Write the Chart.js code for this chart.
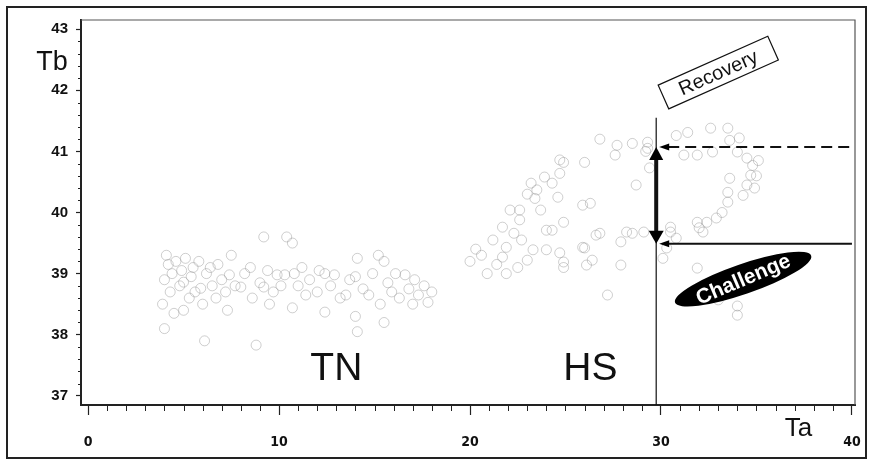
<!DOCTYPE html>
<html>
<head>
<meta charset="utf-8">
<script src="https://cdn.jsdelivr.net/npm/chart.js@4.4.1/dist/chart.umd.min.js"></script>
<style>
  html, body { margin: 0; padding: 0; background: #fff; }
  #wrap { width: 872px; height: 462px; }
</style>
</head>
<body>
<div id="wrap"><canvas id="chart" width="872" height="462"></canvas></div>
<script>
// axis setup (Ta on x, Tb on y)
const xTicks = [0, 10, 20, 30, 40];
const yTicks = [37, 38, 39, 40, 41, 42, 43];
const xRange = [-0.37, 40.16];
const yRange = [36.85, 43.15];

// thermoneutral period
const tnPoints = [
    [3.9,38.5],[4.0,38.1],[4.0,38.9],[4.1,39.3],[4.2,39.15],[4.3,38.7],[4.4,39.0],[4.5,38.35],
    [4.6,39.2],[4.8,38.8],[4.9,39.05],[5.0,38.4],[5.0,38.86],[5.1,39.25],[5.3,38.6],[5.4,38.95],
    [5.5,39.1],[5.6,38.7],[5.8,39.2],[5.9,38.76],[6.0,38.5],[6.1,37.9],[6.2,39.0],[6.4,39.1],
    [6.5,38.8],[6.7,38.6],[6.8,39.15],[7.0,38.9],[7.2,38.7],[7.3,38.4],[7.4,38.98],[7.5,39.3],
    [7.7,38.8],[8.0,38.78],[8.2,39.0],[8.5,39.1],[8.6,38.6],[8.8,37.83],[9.0,38.85],[9.2,38.78],
    [9.2,39.6],[9.4,39.05],[9.5,38.5],[9.7,38.7],[9.9,38.98],[10.1,38.8],[10.3,38.98],[10.4,39.6],
    [10.7,38.44],[10.7,39.5],[10.8,39.0],[11.0,38.8],[11.2,39.1],[11.4,38.65],[11.6,38.9],[12.0,38.7],
    [12.1,39.05],[12.4,38.37],[12.4,39.0],[12.7,38.8],[12.9,38.98],[13.2,38.6],[13.5,38.65],[13.7,38.9],
    [14.0,38.3],[14.0,38.95],[14.1,38.05],[14.1,39.25],[14.4,38.75],[14.7,38.65],[14.9,39.0],[15.2,39.3],
    [15.3,38.5],[15.5,38.2],[15.5,39.2],[15.7,38.85],[15.9,38.7],[16.1,39.0],[16.3,38.6],[16.6,38.98],
    [16.8,38.75],[17.0,38.5],[17.1,38.9],[17.3,38.65],[17.6,38.8],[17.8,38.53],[18.0,38.7]
];

// heat stress period
const hsPoints = [
    [20.0,39.2],[20.3,39.4],[20.6,39.3],[20.9,39.0],[21.2,39.55],[21.4,39.15],[21.7,39.76],[21.7,39.27],
    [21.9,39.43],[21.9,39.0],[22.1,40.04],[22.3,39.66],[22.5,39.1],[22.6,39.88],[22.6,40.04],[22.7,39.55],
    [23.0,40.3],[23.0,39.22],[23.2,40.48],[23.3,39.39],[23.4,40.23],[23.5,40.37],[23.7,40.04],[23.9,40.58],
    [24.0,39.71],[24.0,39.39],[24.3,39.71],[24.3,40.48],[24.6,40.25],[24.7,40.86],[24.7,40.64],[24.7,39.34],
    [24.9,39.1],[24.9,40.82],[24.9,39.84],[24.9,39.19],[25.9,40.12],[25.9,39.43],[26.0,40.82],[26.0,39.42],
    [26.1,39.14],[26.3,40.15],[26.4,39.22],[26.6,39.63],[26.8,39.66],[26.8,41.2],[27.2,38.65],[27.6,40.94],
    [27.7,41.1],[27.9,39.52],[27.9,39.14],[28.2,39.68],[28.5,41.13],[28.5,39.66],[28.7,40.45],[29.1,39.68],
    [29.2,41.0],[29.3,41.15],[29.3,41.05],[29.4,40.73]
];

// recovery loop
const recoveryPoints = [
    [30.1,39.25],[30.3,39.42],[30.5,39.68],[30.5,39.76],[30.8,39.58],[30.8,41.26],[31.2,40.94],[31.4,41.31],
    [31.9,40.94],[31.9,39.84],[31.9,39.09],[32.0,39.75],[32.2,39.68],[32.4,39.84],[32.6,41.38],[32.7,40.99],
    [32.9,39.91],[33.0,38.57],[33.2,40.0],[33.5,40.17],[33.5,40.33],[33.5,41.38],[33.6,40.56],[33.6,41.18],
    [34.0,40.99],[34.0,38.32],[34.0,38.47],[34.1,41.22],[34.3,40.28],[34.5,40.45],[34.5,40.89],[34.7,40.61],
    [34.8,40.77],[34.9,40.4],[35.0,40.6],[35.1,40.85]
];

// where the arrows sit
const challengeTa = 29.75;
const recoveryTb = 41.07;
const challengeTb = 39.49;

function toXY(list) {
    return list.map(p => ({ x: p[0], y: p[1] }));
}

function head(ctx, tx, ty, dx, dy, len, half) {
    // tip at (tx,ty), pointing along (dx,dy)
    const bx = tx - dx * len, by = ty - dy * len;
    ctx.beginPath();
    ctx.moveTo(tx, ty);
    ctx.lineTo(bx - dy * half, by + dx * half);
    ctx.lineTo(bx + dy * half, by - dx * half);
    ctx.closePath();
    ctx.fill();
}

const figureMarks = {
    id: 'figureMarks',
    afterDraw(chart) {
        const { ctx, chartArea: area, scales: { x, y } } = chart;
        ctx.save();

        // outer frame
        ctx.strokeStyle = '#222';
        ctx.lineWidth = 2;
        ctx.strokeRect(7, 7, 859, 451);

        // top and right frame of the plot
        ctx.lineWidth = 1.2;
        ctx.strokeStyle = '#555';
        ctx.beginPath();
        ctx.moveTo(area.left, area.top);
        ctx.lineTo(area.right, area.top);
        ctx.lineTo(area.right, area.bottom);
        ctx.stroke();

        // minor ticks
        ctx.strokeStyle = '#222';
        ctx.lineWidth = 1;
        ctx.beginPath();
        for (let i = 1; i < 30; i++) {
            if (i % 5 === 0) continue;
            const py = Math.round(y.getPixelForValue(37 + i * 0.2)) + 0.5;
            ctx.moveTo(area.left - 3, py);
            ctx.lineTo(area.left, py);
        }
        for (let i = 1; i < 40; i++) {
            if (i % 10 === 0) continue;
            const px = Math.round(x.getPixelForValue(i)) + 0.5;
            ctx.moveTo(px, area.bottom);
            ctx.lineTo(px, area.bottom + 6);
        }
        ctx.stroke();

        const cx = x.getPixelForValue(challengeTa);
        const yRec = y.getPixelForValue(recoveryTb);
        const yCh = y.getPixelForValue(challengeTb);
        const xEnd = x.getPixelForValue(40);

        // vertical line at the challenge
        ctx.strokeStyle = '#111';
        ctx.lineWidth = 1.2;
        ctx.beginPath();
        ctx.moveTo(cx, y.getPixelForValue(41.55));
        ctx.lineTo(cx, area.bottom);
        ctx.stroke();

        // thick double arrow
        ctx.fillStyle = '#000';
        ctx.lineWidth = 4;
        ctx.beginPath();
        ctx.moveTo(cx, yRec + 10);
        ctx.lineTo(cx, yCh - 10);
        ctx.stroke();
        head(ctx, cx, yRec, 0, -1, 13, 7);
        head(ctx, cx, yCh, 0, 1, 13, 7.5);

        // dashed recovery line
        ctx.lineWidth = 2;
        ctx.setLineDash([11, 6]);
        ctx.beginPath();
        ctx.moveTo(cx + 12, yRec);
        ctx.lineTo(xEnd, yRec);
        ctx.stroke();
        ctx.setLineDash([]);
        head(ctx, cx + 3, yRec, -1, 0, 10, 3.5);

        // solid challenge line
        ctx.beginPath();
        ctx.moveTo(cx + 10, yCh);
        ctx.lineTo(xEnd, yCh);
        ctx.stroke();
        head(ctx, cx + 3, yCh, -1, 0, 10, 3.5);

        // period labels
        ctx.fillStyle = '#111';
        ctx.textAlign = 'center';
        ctx.textBaseline = 'middle';
        ctx.font = '39px "Liberation Sans", Arial, sans-serif';
        ctx.fillText('TN', x.getPixelForValue(13.0), y.getPixelForValue(37.44));
        ctx.fillText('HS', x.getPixelForValue(26.3), y.getPixelForValue(37.44));

        // axis names
        ctx.font = '27px "Liberation Sans", Arial, sans-serif';
        ctx.fillText('Tb', area.left - 29, y.getPixelForValue(42.45));
        ctx.font = '26px "Liberation Sans", Arial, sans-serif';
        ctx.fillText('Ta', x.getPixelForValue(37.2), area.bottom + 24);

        // Recovery box
        ctx.save();
        ctx.translate(x.getPixelForValue(33.0), y.getPixelForValue(42.29));
        ctx.rotate(-24 * Math.PI / 180);
        ctx.fillStyle = '#fff';
        ctx.fillRect(-60, -13, 120, 26);
        ctx.strokeStyle = '#111';
        ctx.lineWidth = 1.2;
        ctx.strokeRect(-60, -13, 120, 26);
        ctx.fillStyle = '#111';
        ctx.font = '20px "Liberation Sans", Arial, sans-serif';
        ctx.fillText('Recovery', 0, 1);
        ctx.restore();

        // Challenge ellipse
        ctx.save();
        ctx.translate(x.getPixelForValue(34.3), y.getPixelForValue(38.91));
        ctx.rotate(-19 * Math.PI / 180);
        ctx.fillStyle = '#000';
        ctx.beginPath();
        ctx.ellipse(0, 0, 72, 15, 0, 0, Math.PI * 2);
        ctx.fill();
        ctx.rotate(-4 * Math.PI / 180);
        ctx.fillStyle = '#fff';
        ctx.font = 'bold 21px "Liberation Sans", Arial, sans-serif';
        ctx.fillText('Challenge', 0, 1);
        ctx.restore();

        ctx.restore();
    }
};

const pointStyle = {
    pointRadius: 5,
    pointHoverRadius: 5,
    borderWidth: 1,
    borderColor: 'rgba(140,140,140,0.42)',
    backgroundColor: 'rgba(0,0,0,0)'
};

new Chart(document.getElementById('chart'), {
    type: 'scatter',
    data: {
        datasets: [
            Object.assign({ label: 'TN', data: toXY(tnPoints) }, pointStyle),
            Object.assign({ label: 'HS', data: toXY(hsPoints) }, pointStyle),
            Object.assign({ label: 'Recovery', data: toXY(recoveryPoints) }, pointStyle)
        ]
    },
    options: {
        responsive: false,
        animation: false,
        layout: { padding: { left: 0, top: 20, right: 17, bottom: 0 } },
        plugins: {
            legend: { display: false },
            tooltip: { enabled: false }
        },
        scales: {
            x: {
                type: 'linear',
                min: xRange[0],
                max: xRange[1],
                afterBuildTicks: scale => { scale.ticks = xTicks.map(v => ({ value: v })); },
                afterFit: scale => {
                    scale.height = 57;
                    scale.paddingLeft = 0;
                    scale.paddingRight = 0;
                },
                border: { display: true, color: '#222', width: 2 },
                grid: { display: true, drawOnChartArea: false, drawTicks: true, tickLength: 10, tickColor: '#222', tickWidth: 1.2 },
                ticks: {
                    color: '#111',
                    padding: 19,
                    maxRotation: 0,
                    font: { family: '"Liberation Sans Narrow", "DejaVu Sans Condensed", sans-serif', size: 14, weight: 'bold' }
                }
            },
            y: {
                type: 'linear',
                min: yRange[0],
                max: yRange[1],
                afterBuildTicks: scale => { scale.ticks = yTicks.map(v => ({ value: v })); },
                afterFit: scale => {
                    scale.width = 81;
                    scale.paddingTop = 0;
                    scale.paddingBottom = 0;
                },
                border: { display: true, color: '#222', width: 2 },
                grid: { display: true, drawOnChartArea: false, drawTicks: true, tickLength: 5, tickColor: '#222', tickWidth: 1.2 },
                ticks: {
                    color: '#111',
                    padding: 8,
                    font: { family: '"Liberation Sans", Arial, sans-serif', size: 15, weight: 'bold' }
                }
            }
        }
    },
    plugins: [figureMarks]
});
</script>
</body>
</html>
